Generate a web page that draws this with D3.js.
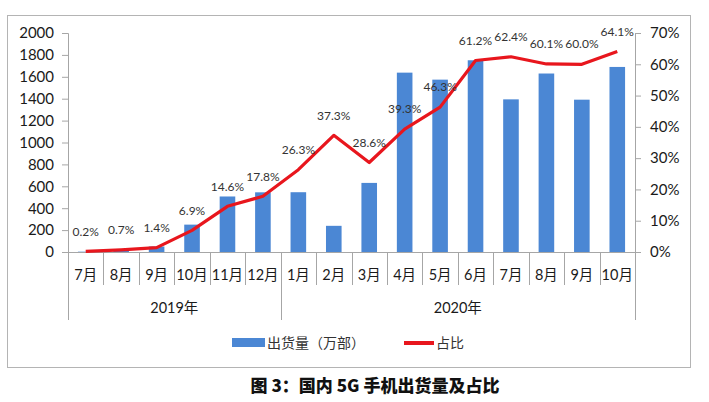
<!DOCTYPE html>
<html lang="zh">
<head>
<meta charset="utf-8">
<title>国内5G手机出货量及占比</title>
<script src="https://cdn.jsdelivr.net/npm/d3@7"></script>
<style>
  body { margin: 0; background: #fff; }
  svg text { font-family: Lato, "Noto Sans CJK SC", sans-serif; }
</style>
</head>
<body>
<svg id="chart" width="709" height="402"></svg>
<script>
// data
const months = ["7月", "8月", "9月", "10月", "11月", "12月", "1月", "2月", "3月", "4月", "5月", "6月", "7月", "8月", "9月", "10月"];
const years = [{ name: "2019年", from: 0, to: 6 }, { name: "2020年", from: 6, to: 16 }];
const shipments = [3, 13, 50, 250, 507, 545, 546, 239, 631, 1638, 1574, 1751, 1394, 1630, 1391, 1690];
const share = [0.002, 0.007, 0.014, 0.069, 0.146, 0.178, 0.263, 0.373, 0.286, 0.393, 0.463, 0.612, 0.624, 0.601, 0.600, 0.641];
const leftTicks = [0, 200, 400, 600, 800, 1000, 1200, 1400, 1600, 1800, 2000];
const rightTicks = [0, 0.1, 0.2, 0.3, 0.4, 0.5, 0.6, 0.7];

const blue = "#4b87d4", red = "#e8161d", grey = "#a6a6a6";
const plot = { left: 68, right: 635, top: 33, bottom: 252 };

const svg = d3.select("#chart");

// outer frame
svg.append("rect")
  .attr("x", 7.5).attr("y", 15.5)
  .attr("width", 683).attr("height", 352)
  .attr("fill", "none").attr("stroke", "#b4b4b4");

const idx = d3.range(months.length);
const x = d3.scaleBand().domain(idx).range([plot.left, plot.right])
  .paddingInner(0.56).paddingOuter(0.28);
const step = x.step();
const y = d3.scaleLinear().domain([0, 2000]).range([plot.bottom, plot.top]);
const y2 = d3.scaleLinear().domain([0, 0.7]).range([plot.bottom, plot.top]);

// left axis
const leftAxis = svg.append("g")
  .attr("transform", `translate(${plot.left},0)`)
  .call(d3.axisLeft(y).tickValues(leftTicks).tickFormat(d3.format("d")).tickSize(6).tickPadding(8));
leftAxis.select(".domain").attr("stroke", grey);
leftAxis.selectAll(".tick line").attr("stroke", grey);
leftAxis.selectAll("text").attr("font-size", 15).attr("fill", "#1a1a1a");

// right axis
const rightAxis = svg.append("g")
  .attr("transform", `translate(${plot.right},0)`)
  .call(d3.axisRight(y2).tickValues(rightTicks).tickFormat(d3.format(".0%")).tickSize(6).tickPadding(9));
rightAxis.select(".domain").attr("stroke", grey);
rightAxis.selectAll(".tick line").attr("stroke", grey);
rightAxis.selectAll("text").attr("font-size", 15).attr("fill", "#1a1a1a");

// bars
svg.append("g").selectAll("rect")
  .data(shipments)
  .join("rect")
  .attr("x", (d, i) => x(i))
  .attr("y", d => y(d))
  .attr("width", x.bandwidth())
  .attr("height", d => y(0) - y(d))
  .attr("fill", blue);

// category axis baseline
svg.append("line")
  .attr("x1", plot.left).attr("x2", plot.right)
  .attr("y1", plot.bottom + 0.5).attr("y2", plot.bottom + 0.5)
  .attr("stroke", grey);

// month dividers and labels
const boundaries = d3.range(months.length + 1);
const yearBounds = new Set(years.flatMap(d => [d.from, d.to]));
svg.append("g").selectAll("line")
  .data(boundaries)
  .join("line")
  .attr("x1", i => Math.round(plot.left + i * step) + 0.5)
  .attr("x2", i => Math.round(plot.left + i * step) + 0.5)
  .attr("y1", plot.bottom)
  .attr("y2", i => yearBounds.has(i) ? 320 : 285)
  .attr("stroke", grey);

svg.append("g").selectAll("text")
  .data(months)
  .join("text")
  .attr("x", (d, i) => x(i) + x.bandwidth() / 2)
  .attr("y", 275)
  .attr("dy", "0.35em")
  .attr("text-anchor", "middle")
  .attr("font-size", 14.5)
  .attr("fill", "#1a1a1a")
  .text(d => d);

svg.append("g").selectAll("text")
  .data(years)
  .join("text")
  .attr("x", d => plot.left + (d.from + d.to) / 2 * step)
  .attr("y", 308)
  .attr("dy", "0.35em")
  .attr("text-anchor", "middle")
  .attr("font-size", 14.5)
  .attr("fill", "#1a1a1a")
  .text(d => d.name);

// share line
const line = d3.line()
  .x((d, i) => x(i) + x.bandwidth() / 2)
  .y(d => y2(d));
svg.append("path")
  .datum(share)
  .attr("d", line)
  .attr("fill", "none")
  .attr("stroke", red)
  .attr("stroke-width", 3.2)
  .attr("stroke-linejoin", "round");

svg.append("g").selectAll("text")
  .data(share)
  .join("text")
  .attr("x", (d, i) => x(i) + x.bandwidth() / 2)
  .attr("y", d => y2(d) - 20)
  .attr("dy", "0.35em")
  .attr("text-anchor", "middle")
  .attr("font-size", 12)
  .attr("fill", "#333")
  .text(d => d3.format(".1%")(d));

// legend
const legend = svg.append("g");
legend.append("rect")
  .attr("x", 232).attr("y", 338).attr("width", 33).attr("height", 9)
  .attr("fill", blue);
legend.append("text")
  .attr("x", 267).attr("y", 343).attr("dy", "0.35em")
  .attr("font-size", 14).attr("fill", "#333")
  .style("font-family", "'Noto Sans CJK SC', sans-serif")
  .text("出货量（万部）");
legend.append("line")
  .attr("x1", 404).attr("x2", 434).attr("y1", 343).attr("y2", 343)
  .attr("stroke", red).attr("stroke-width", 4);
legend.append("text")
  .attr("x", 436).attr("y", 343).attr("dy", "0.35em")
  .attr("font-size", 14).attr("fill", "#333")
  .style("font-family", "'Noto Sans CJK SC', sans-serif")
  .text("占比");

// caption
svg.append("text")
  .attr("x", 375).attr("y", 386).attr("dy", "0.35em")
  .attr("text-anchor", "middle")
  .attr("font-size", 17).attr("font-weight", "900").attr("fill", "#111")
  .style("font-family", "'Noto Sans CJK SC', sans-serif")
  .text("图 3：国内 5G 手机出货量及占比");
</script>
</body>
</html>
